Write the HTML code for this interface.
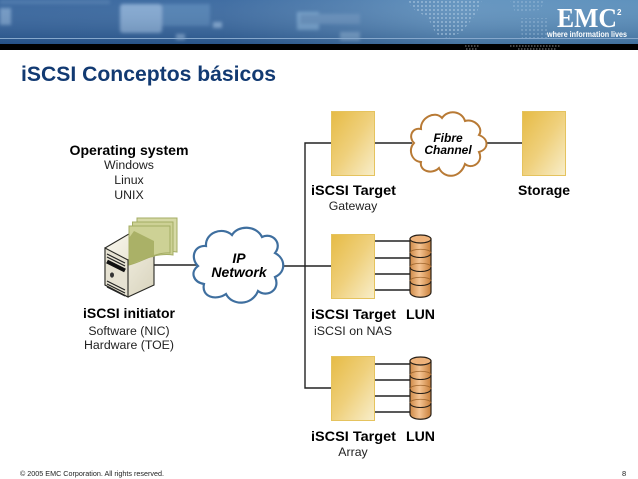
<!DOCTYPE html>
<html><head><meta charset="utf-8"><style>
html,body{margin:0;padding:0;background:#fff}
svg{display:block}
text{font-family:"Liberation Sans",sans-serif;fill:#000}
.b{font-weight:bold;font-size:14px}
.r{font-size:12.3px;fill:#222}
.m{text-anchor:middle}
</style></head><body>
<svg width="638" height="479" viewBox="0 0 638 479" xmlns="http://www.w3.org/2000/svg">
<defs>
<linearGradient id="hd" x1="0" x2="1" y1="0" y2="0"><stop offset="0" stop-color="#2f5f99"/><stop offset=".35" stop-color="#35659d"/><stop offset=".55" stop-color="#4a7aac"/><stop offset=".72" stop-color="#5d90bd"/><stop offset="1" stop-color="#558bb9"/></linearGradient>
<linearGradient id="hv" x1="0" x2="0" y1="0" y2="1"><stop offset="0" stop-color="#fff" stop-opacity=".06"/><stop offset="1" stop-color="#0a2a55" stop-opacity=".28"/></linearGradient>
<linearGradient id="y" x1="0" y1="0" x2="1" y2="1"><stop offset="0" stop-color="#e6bb45"/><stop offset=".5" stop-color="#efd07c"/><stop offset="1" stop-color="#f8eecb"/></linearGradient>
<linearGradient id="c" x1="0" x2="1" y1="0" y2="0"><stop offset="0" stop-color="#cf8a48"/><stop offset=".45" stop-color="#f5c493"/><stop offset="1" stop-color="#c87f3a"/></linearGradient>
<linearGradient id="sv" x1="0" x2="1" y1="0" y2="1"><stop offset="0" stop-color="#fbf9f0"/><stop offset="1" stop-color="#d8d3bc"/></linearGradient>
<pattern id="dots" width="4" height="4" patternUnits="userSpaceOnUse"><rect x="1" y="1" width="2" height="2" fill="#a9c6e0" opacity=".55"/></pattern>
<filter id="bl"><feGaussianBlur stdDeviation="1.5"/></filter>
<g id="tg"><rect x="0.5" y="0.5" width="43" height="64" fill="url(#y)" stroke="#e5c35e"/></g>
<g id="cyl">
<path d="M1 6V59C1 66 22 66 22 59V6Z" fill="url(#c)" stroke="#2a2118" stroke-width="1.2"/>
<ellipse cx="11.5" cy="6" rx="10.5" ry="4" fill="#eeb27a" stroke="#2a2118" stroke-width="1.2"/>
<path d="M1 20C1 26 22 26 22 20M1 34C1 40 22 40 22 34M1 48C1 54 22 54 22 48" fill="none" stroke="#2a2118" stroke-width="1.1"/>
<path d="M1 20C1 15 22 15 22 20M1 34C1 29 22 29 22 34M1 48C1 43 22 43 22 48" fill="none" stroke="#a0672f" stroke-width=".8"/>
</g>
</defs>
<!-- header -->
<rect width="638" height="44" fill="url(#hd)"/>
<g filter="url(#bl)">
<rect x="0" y="8" width="11" height="17" fill="#6d95c2"/>
<rect x="120" y="4" width="42" height="29" rx="3" fill="#7fa5cf"/>
<rect x="162" y="4" width="48" height="22" fill="#4c7cb0"/>
<rect x="213" y="22" width="9" height="6" fill="#7fa5cf"/>
<rect x="176" y="34" width="9" height="6" fill="#7fa5cf"/>
<rect x="297" y="12" width="22" height="18" fill="#719fca"/>
<rect x="300" y="14" width="60" height="10" fill="#5f8ab8"/>
<rect x="340" y="32" width="20" height="9" fill="#7aa3cb"/>
<rect x="0" y="0" width="110" height="4" fill="#5a86b6" opacity=".5"/>
</g>
<rect width="638" height="44" fill="url(#hv)"/>
<path d="M408 0H482L476 14L462 32L448 38L436 34L428 18L412 8Z" fill="url(#dots)"/>
<path d="M510 0H545L540 10L515 12ZM520 18H548V40H522Z" fill="url(#dots)" opacity=".6"/>
<rect y="38" width="638" height="1" fill="#86a8cc"/>
<rect y="44" width="638" height="6" fill="#000"/>
<path d="M465 46h15M510 46h50M466 49h12M518 49h38" stroke="#8a8a8a" stroke-width="1" stroke-dasharray="1.5 1.5"/>
<text x="557" y="27" style="font-family:'Liberation Serif',serif;font-size:27px;font-weight:bold;fill:#fff" textLength="60" lengthAdjust="spacingAndGlyphs">EMC</text>
<text x="617" y="15" style="font-size:8px;font-weight:bold;fill:#fff">2</text>
<text x="547" y="37" style="font-size:8.5px;font-weight:bold;fill:#fff" textLength="80" lengthAdjust="spacingAndGlyphs">where information lives</text>
<!-- title -->
<text x="21" y="81" style="font-size:21px;font-weight:bold;fill:#123a72" textLength="255" lengthAdjust="spacingAndGlyphs">iSCSI Conceptos básicos</text>
<!-- lines -->
<g stroke="#222" stroke-width="1.4" fill="none">
<path d="M331 143H305V388H331"/>
<path d="M374 143H412M486 143H522"/>
<path d="M153 265H200M276 266H331"/>
<path d="M374 241H410M374 258H410M374 274H410M374 290H410"/>
<path d="M374 364H410M374 380H410M374 396H410M374 412H410"/>
</g>
<use href="#tg" x="331" y="111"/>
<use href="#tg" x="522" y="111"/>
<use href="#tg" x="331" y="234"/>
<use href="#tg" x="331" y="356"/>
<use href="#cyl" x="409" y="233"/>
<use href="#cyl" x="409" y="355"/>
<!-- clouds -->
<path d="M198 266C190 258 194 245 206 246C205 233 222 226 232 235C238 225 256 225 262 237C272 232 283 243 275 253C286 259 286 272 275 277C281 290 267 298 258 291C252 306 232 306 226 294C216 301 201 297 204 284C193 282 190 272 198 266Z" fill="#fff" stroke="#3f6f9f" stroke-width="2.2"/>
<path d="M414 143C408 137 412 127 421 129C420 118 435 110 442 118C448 109 462 111 465 121C474 118 484 128 479 135C489 139 489 149 479 152C484 162 472 170 465 164C460 179 444 179 439 168C432 175 419 171 421 162C411 161 408 149 414 143Z" fill="#fff" stroke="#b87a35" stroke-width="2"/>
<!-- server -->
<path d="M105 248L134 231L154 242V285L128 297L105 285Z" fill="url(#sv)" stroke="#2a2a25" stroke-width="1.1"/>
<path d="M105 248L128 260V297L105 285Z" fill="#e6e2d2" stroke="#2a2a25" stroke-width="1.1"/>
<path d="M128 260L154 242" stroke="#2a2a25" stroke-width="1"/>
<path d="M107 254L125 263M107 257L125 266" stroke="#222" stroke-width="1.2"/>
<path d="M107 261.5L125 270.5" stroke="#111" stroke-width="4"/>
<ellipse cx="112" cy="275" rx="2" ry="2.6" fill="#333"/>
<path d="M107 281L125 290M107 284L125 293M107 287L125 296" stroke="#222" stroke-width="1.1"/>
<!-- documents -->
<g stroke="#a4ad64" stroke-width="1">
<path d="M137 218H177V252C165 250 150 254 137 258Z" fill="#d6d9a6"/>
<path d="M132.500 222H173V255C160 253 145 258 132.500 262Z" fill="#cdd195"/>
<path d="M129 226H170V253C155 252 142 262 129 265Z" fill="#cdd195"/>
</g>
<path d="M129 238L134 231L154 241V257C144 258 137 262 129 265Z" fill="#a6ad62" opacity=".9"/>
<!-- labels -->
<text x="129" y="155" class="b m" textLength="119" lengthAdjust="spacingAndGlyphs">Operating system</text>
<text x="129" y="169" class="r m">Windows</text>
<text x="129" y="184" class="r m">Linux</text>
<text x="129" y="199" class="r m">UNIX</text>
<text x="129" y="318" class="b m" textLength="92" lengthAdjust="spacingAndGlyphs">iSCSI initiator</text>
<text x="129" y="335" class="r m">Software (NIC)</text>
<text x="129" y="349" class="r m">Hardware (TOE)</text>
<text x="239" y="263" class="b m" style="font-style:italic">IP</text>
<text x="239" y="277" class="b m" style="font-style:italic">Network</text>
<text x="448" y="142" class="m" style="font-size:12px;font-weight:bold;font-style:italic">Fibre</text>
<text x="448" y="154" class="m" style="font-size:12px;font-weight:bold;font-style:italic">Channel</text>
<text x="311" y="195" class="b" textLength="85" lengthAdjust="spacingAndGlyphs">iSCSI Target</text>
<text x="353" y="210" class="r m">Gateway</text>
<text x="518" y="195" class="b" textLength="52" lengthAdjust="spacingAndGlyphs">Storage</text>
<text x="311" y="319" class="b" textLength="85" lengthAdjust="spacingAndGlyphs">iSCSI Target</text>
<text x="406" y="319" class="b" textLength="29" lengthAdjust="spacingAndGlyphs">LUN</text>
<text x="314" y="335" class="r" textLength="78" lengthAdjust="spacingAndGlyphs">iSCSI on NAS</text>
<text x="311" y="441" class="b" textLength="85" lengthAdjust="spacingAndGlyphs">iSCSI Target</text>
<text x="406" y="441" class="b" textLength="29" lengthAdjust="spacingAndGlyphs">LUN</text>
<text x="353" y="456" class="r m">Array</text>
<text x="20" y="476" style="font-size:7.5px;fill:#222" textLength="144" lengthAdjust="spacingAndGlyphs">© 2005 EMC Corporation. All rights reserved.</text>
<text x="622" y="476" style="font-size:7.5px;fill:#222">8</text>
</svg>
</body></html>
